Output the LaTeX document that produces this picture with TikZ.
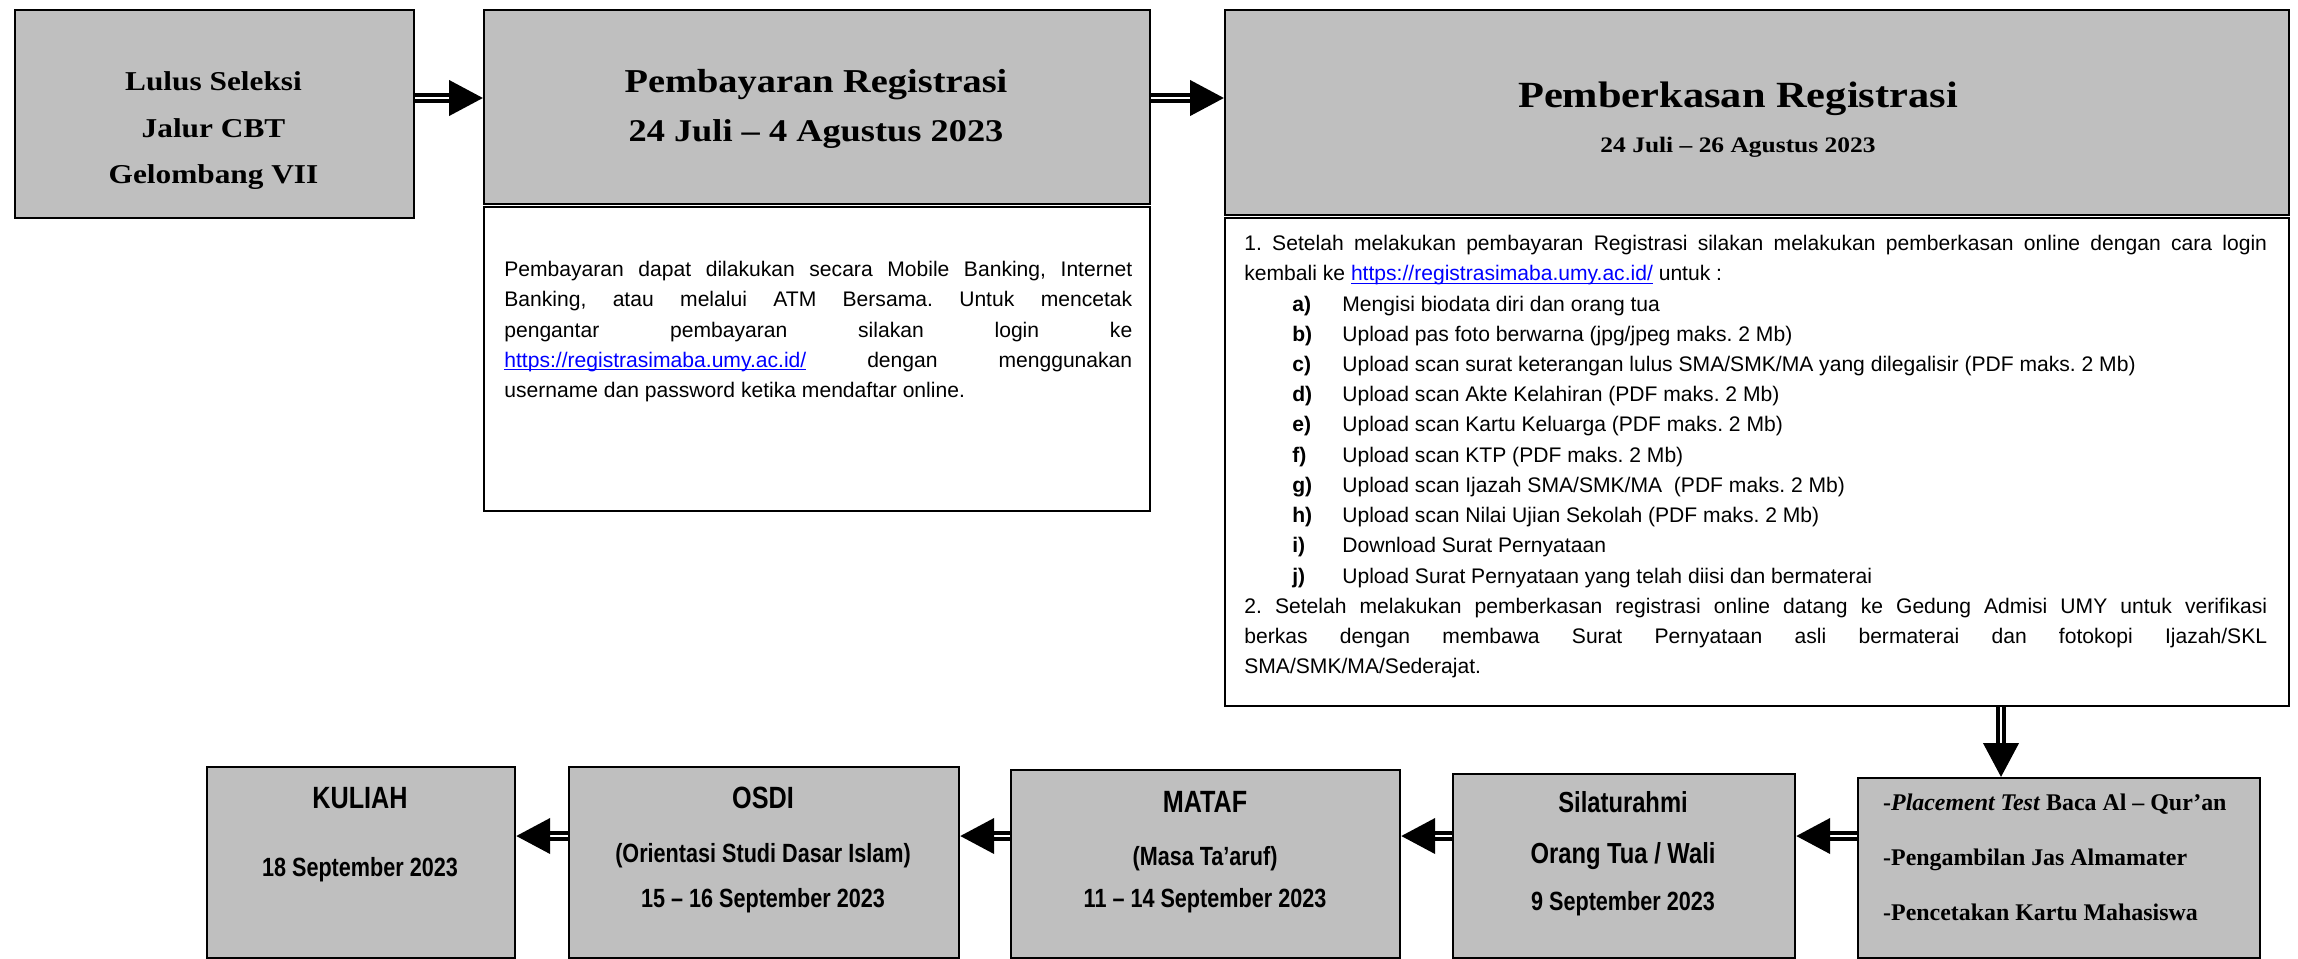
\documentclass[tikz,border=0pt]{standalone}
\usepackage{fontspec}
\setmainfont{Liberation Sans}
\newfontfamily\headserif[FakeStretch=1.15]{Liberation Serif}
\newfontfamily\stepserif{Liberation Serif}
\newfontfamily\narrowsans[FakeStretch=0.82]{Liberation Sans}
\usetikzlibrary{arrows.meta}
\definecolor{boxgray}{RGB}{191,191,191}
\definecolor{linkblue}{RGB}{0,0,255}
\newcommand\weblink{\textcolor{linkblue}{\underline{\smash{https://registrasimaba.umy.ac.id/}}}}
\newcommand\listitem[2]{\par\hspace*{0.96cm}\makebox[1cm][l]{\textbf{#1}}#2}
\setlength\parindent{0pt}
\hyphenpenalty=10000
\exhyphenpenalty=10000
\frenchspacing
\begin{document}
\begin{tikzpicture}[x=0.02cm,y=-0.02cm,line join=miter,
  graybox/.style={draw,line width=0.045cm,fill=boxgray,anchor=north west,inner sep=0pt},
  whitebox/.style={draw,line width=0.045cm,fill=white,anchor=north west,inner sep=0pt},
  flow/.style={double=white,double distance=0.03cm,line width=0.085cm,
    -{Triangle[length=0.68cm,width=0.7cm]}},
  lulustext/.style={font=\headserif\bfseries\fontsize{15.5}{18}\selectfont,anchor=base},
  notetext/.style={anchor=north west,inner sep=0pt,align=justify,
    font=\fontsize{12}{17.2}\selectfont},
  rowhead/.style={font=\narrowsans\bfseries\fontsize{17.5}{20}\selectfont,anchor=base},
  rowmid/.style={font=\narrowsans\bfseries\fontsize{16.5}{19}\selectfont,anchor=base},
  rowsub/.style={font=\narrowsans\bfseries\fontsize{15}{18}\selectfont,anchor=base},
  testtext/.style={font=\stepserif\bfseries\fontsize{13.6}{16}\selectfont,anchor=base west}]
  \useasboundingbox (0,0) rectangle (2298,958);
  \clip (0,0) rectangle (2298,958);
  % top row
  \node[graybox,minimum width=7.98cm,minimum height=4.16cm] (lulus) at (14,9) {};
  \node[graybox,minimum width=13.32cm,minimum height=3.88cm] (bayar) at (483,9) {};
  \node[whitebox,minimum width=13.32cm,minimum height=6.08cm] (bayarket) at (483,206) {};
  \node[graybox,minimum width=21.28cm,minimum height=4.10cm] (berkas) at (1224,9) {};
  \node[whitebox,minimum width=21.28cm,minimum height=9.76cm] (berkasket) at (1224,217) {};
  % bottom row
  \node[graybox,minimum width=8.04cm,minimum height=3.60cm] (tes) at (1857,777) {};
  \node[graybox,minimum width=6.84cm,minimum height=3.68cm] (silat) at (1452,773) {};
  \node[graybox,minimum width=7.78cm,minimum height=3.76cm] (mataf) at (1010,769) {};
  \node[graybox,minimum width=7.80cm,minimum height=3.82cm] (osdi) at (568,766) {};
  \node[graybox,minimum width=6.16cm,minimum height=3.82cm] (kuliah) at (206,766) {};

  \node[lulustext] (lulus1) at (213.5,90) {Lulus Seleksi};
  \node[lulustext] (lulus2) at (213.5,137) {Jalur CBT};
  \node[lulustext] (lulus3) at (213.5,183) {Gelombang VII};

  \node[lulustext,font=\headserif\bfseries\fontsize{19}{22}\selectfont] (bayar1) at (816,92) {Pembayaran Registrasi};
  \node[lulustext,font=\headserif\bfseries\fontsize{18}{22}\selectfont] (bayar2) at (816,141) {24 Juli – 4 Agustus 2023};
  \node[notetext,text width=12.56cm] (bayarteks) at (504,261) {Pembayaran dapat dilakukan secara Mobile Banking, Internet\linebreak
    Banking, atau melalui ATM Bersama. Untuk mencetak\linebreak
    pengantar pembayaran silakan login ke\linebreak
    \weblink{} dengan menggunakan\linebreak
    username dan password ketika mendaftar online.};

  \node[lulustext,font=\headserif\bfseries\fontsize{21}{24}\selectfont] (berkas1) at (1738,107) {Pemberkasan Registrasi};
  \node[lulustext,font=\headserif\bfseries\fontsize{12.6}{15}\selectfont] (berkas2) at (1738,152) {24 Juli – 26 Agustus 2023};
  \node[notetext,text width=20.46cm] (berkasteks) at (1244,235) {1. Setelah melakukan pembayaran Registrasi silakan melakukan pemberkasan online dengan cara login\linebreak
    kembali ke \weblink{} untuk :
    \listitem{a)}{Mengisi biodata diri dan orang tua}
    \listitem{b)}{Upload pas foto berwarna (jpg/jpeg maks. 2 Mb)}
    \listitem{c)}{Upload scan surat keterangan lulus SMA/SMK/MA yang dilegalisir (PDF maks. 2 Mb)}
    \listitem{d)}{Upload scan Akte Kelahiran (PDF maks. 2 Mb)}
    \listitem{e)}{Upload scan Kartu Keluarga (PDF maks. 2 Mb)}
    \listitem{f)}{Upload scan KTP (PDF maks. 2 Mb)}
    \listitem{g)}{Upload scan Ijazah SMA/SMK/MA\ \ (PDF maks. 2 Mb)}
    \listitem{h)}{Upload scan Nilai Ujian Sekolah (PDF maks. 2 Mb)}
    \listitem{i)}{Download Surat Pernyataan}
    \listitem{j)}{Upload Surat Pernyataan yang telah diisi dan bermaterai}
    \par 2. Setelah melakukan pemberkasan registrasi online datang ke Gedung Admisi UMY untuk verifikasi\linebreak
    berkas dengan membawa Surat Pernyataan asli bermaterai dan fotokopi Ijazah/SKL\linebreak
    SMA/SMK/MA/Sederajat.};

  \node[testtext] (tes1) at (1877,810) {-\textit{Placement Test} Baca Al – Qur’an};
  \node[testtext] (tes2) at (1877,865) {-Pengambilan Jas Almamater};
  \node[testtext] (tes3) at (1877,920) {-Pencetakan Kartu Mahasiswa};

  \node[rowmid] (silat1) at (1623,812) {Silaturahmi};
  \node[rowmid] (silat2) at (1623,863) {Orang Tua / Wali};
  \node[rowsub] (silat3) at (1623,910) {9 September 2023};

  \node[rowhead] (mataf1) at (1205,812) {MATAF};
  \node[rowsub] (mataf2) at (1205,865) {(Masa Ta’aruf)};
  \node[rowsub] (mataf3) at (1205,907) {11 – 14 September 2023};

  \node[rowhead] (osdi1) at (763,808) {OSDI};
  \node[rowsub] (osdi2) at (763,862) {(Orientasi Studi Dasar Islam)};
  \node[rowsub] (osdi3) at (763,907) {15 – 16 September 2023};

  \node[rowhead] (kuliah1) at (360,808) {KULIAH};
  \node[rowsub] (kuliah2) at (360,876) {18 September 2023};

  % arrows
  \coordinate (toprow) at (0,98);
  \coordinate (lowrow) at (0,836);
  \coordinate (drop) at (2001,0);
  \draw[flow] (lulus.east |- toprow) -- (bayar.west |- toprow);
  \draw[flow] (bayar.east |- toprow) -- (berkas.west |- toprow);
  \draw[flow] (berkasket.south -| drop) -- (tes.north -| drop);
  \draw[flow] (tes.west |- lowrow) -- (silat.east |- lowrow);
  \draw[flow] (silat.west |- lowrow) -- (mataf.east |- lowrow);
  \draw[flow] (mataf.west |- lowrow) -- (osdi.east |- lowrow);
  \draw[flow] (osdi.west |- lowrow) -- (kuliah.east |- lowrow);
\end{tikzpicture}
\end{document}
